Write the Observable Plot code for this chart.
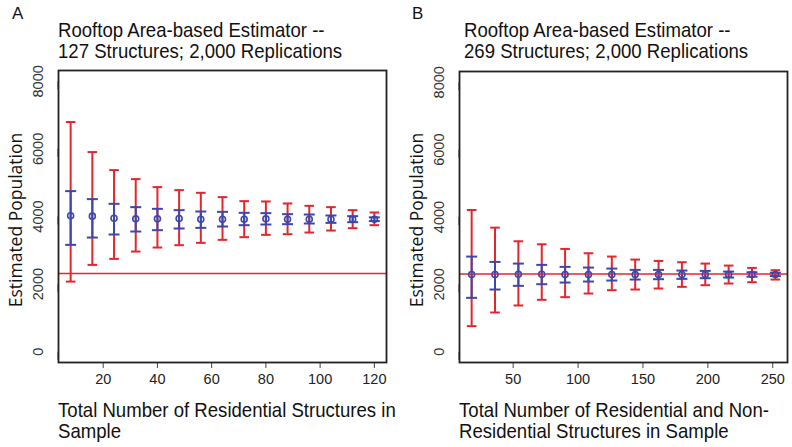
<!DOCTYPE html>
<html>
<head>
<meta charset="utf-8">
<script src="https://cdn.jsdelivr.net/npm/d3@7"></script>
<script src="https://cdn.jsdelivr.net/npm/@observablehq/plot@0.6"></script>
<style>
  html, body { margin: 0; padding: 0; background: #fff; }
  #wrap { position: relative; width: 792px; height: 447px; overflow: hidden; font-family: "Liberation Sans", Arial, sans-serif; color: #111; }
  .panel { position: absolute; top: 0; z-index: 1; }
  .txt { position: absolute; z-index: 2; white-space: nowrap; font-size: 21px; line-height: 20px; transform-origin: 0 0; transform: scaleX(0.885); }
  .lab { position: absolute; z-index: 2; font-size: 17px; line-height: 17px; }
  .ylab { position: absolute; z-index: 2; white-space: nowrap; font-family: "Open Sans", sans-serif; font-size: 17.5px; line-height: 20px; transform: translate(-50%, -50%) rotate(-90deg); }
</style>
</head>
<body>
<div id="wrap">
  <div id="pa" class="panel" style="left:0px;"></div>
  <div id="pb" class="panel" style="left:396px;"></div>
  <div class="lab" style="left:12px; top:5px;">A</div>
  <div class="lab" style="left:412px; top:5px;">B</div>
  <div class="txt" style="left:58px; top:20px;">Rooftop Area-based Estimator --</div>
  <div class="txt" style="left:58px; top:41px;">127 Structures; 2,000 Replications</div>
  <div class="txt" style="left:464px; top:20px;">Rooftop Area-based Estimator --</div>
  <div class="txt" style="left:464px; top:41px;">269 Structures; 2,000 Replications</div>
  <div class="txt" style="left:58px; top:400px;">Total Number of Residential Structures in</div>
  <div class="txt" style="left:58px; top:421px;">Sample</div>
  <div class="txt" style="left:459px; top:400px;">Total Number of Residential and Non-</div>
  <div class="txt" style="left:459px; top:421px;">Residential Structures in Sample</div>
  <div class="ylab" style="left:15px; top:220px;">Estimated Population</div>
  <div class="ylab" style="left:416px; top:220px;">Estimated Population</div>
</div>
<script>
// ---- Panel A data ----
const sampleA = [8, 16, 24, 32, 40, 48, 56, 64, 72, 80, 88, 96, 104, 112, 120];
const meanA   = [4020, 4010, 3950, 3930, 3930, 3940, 3920, 3920, 3920, 3930, 3920, 3920, 3920, 3920, 3920];
const redHiA  = [6795, 5906, 5373, 5106, 4869, 4780, 4701, 4573, 4454, 4445, 4385, 4316, 4277, 4188, 4119];
const redLoA  = [2074, 2568, 2746, 2963, 3082, 3151, 3220, 3309, 3388, 3457, 3477, 3526, 3585, 3655, 3743];
const blueHiA = [4751, 4514, 4375, 4277, 4227, 4188, 4148, 4138, 4109, 4099, 4069, 4059, 4030, 4010, 3975];
const blueLoA = [3161, 3378, 3467, 3556, 3595, 3645, 3664, 3704, 3743, 3763, 3773, 3793, 3812, 3832, 3865];
const xTicksA = [20, 40, 60, 80, 100, 120];

// ---- Panel B data ----
const sampleB = [18, 36, 54, 72, 90, 108, 126, 144, 162, 180, 198, 216, 234, 252];
const meanB   = [2291, 2291, 2300, 2300, 2295, 2295, 2295, 2295, 2295, 2295, 2295, 2295, 2295, 2295];
const redHiB  = [4208, 3684, 3279, 3190, 3052, 2924, 2825, 2736, 2696, 2657, 2617, 2558, 2489, 2420];
const redLoB  = [760, 1165, 1373, 1541, 1620, 1728, 1827, 1847, 1877, 1926, 1975, 2025, 2064, 2143];
const blueHiB = [2825, 2667, 2617, 2578, 2519, 2499, 2469, 2430, 2430, 2410, 2400, 2380, 2360, 2345];
const blueLoB = [1600, 1847, 1956, 2005, 2054, 2084, 2114, 2143, 2153, 2163, 2183, 2202, 2228, 2245];
const xTicksB = [50, 100, 150, 200, 250];

const yTicks = [0, 2000, 4000, 6000, 8000];
const truePopulation = 2310;

const RED = "#e3262e";
const BLUE = "#3d47ab";

const capSymbol = {
  draw(ctx, size) {
    const w = Math.sqrt(size / Math.PI);
    ctx.moveTo(-w, 0);
    ctx.lineTo(w, 0);
  }
};

function table(xs, mean, rhi, rlo, bhi, blo) {
  return xs.map((x, i) => ({x, mean: mean[i], rhi: rhi[i], rlo: rlo[i], bhi: bhi[i], blo: blo[i]}));
}

function panel(data, xTicks, xDomain, margins) {
  return Plot.plot({
    width: 396,
    height: 447,
    marginLeft: margins.left,
    marginRight: margins.right,
    marginTop: margins.top,
    marginBottom: margins.bottom,
    style: {fontFamily: "Liberation Sans, Arial, sans-serif", background: "transparent", overflow: "visible"},
    x: {domain: xDomain, ticks: xTicks, label: null},
    y: {domain: [-320, 8320], ticks: yTicks, label: null},
    marks: [
      Plot.ruleX(data, {x: "x", y1: "rlo", y2: "rhi", stroke: RED, strokeWidth: 2}),
      Plot.dot(data, {x: "x", y: "rhi", symbol: capSymbol, r: 4.8, stroke: RED, strokeWidth: 2, fill: "none"}),
      Plot.dot(data, {x: "x", y: "rlo", symbol: capSymbol, r: 4.8, stroke: RED, strokeWidth: 2, fill: "none"}),
      Plot.ruleX(data, {x: "x", y1: "blo", y2: "bhi", stroke: BLUE, strokeWidth: 2}),
      Plot.dot(data, {x: "x", y: "bhi", symbol: capSymbol, r: 5.5, stroke: BLUE, strokeWidth: 2, fill: "none"}),
      Plot.dot(data, {x: "x", y: "blo", symbol: capSymbol, r: 5.5, stroke: BLUE, strokeWidth: 2, fill: "none"}),
      Plot.ruleY([truePopulation], {stroke: RED, strokeWidth: 1.5}),
      Plot.dot(data, {x: "x", y: "mean", r: 3, stroke: BLUE, strokeWidth: 1.6, fill: "none"}),
      Plot.axisX({ticks: xTicks, tickSize: 6, tickPadding: 5, fontSize: 14.5, stroke: "#444", fill: "#222", tickFormat: d => String(d)}),
      Plot.axisY({ticks: yTicks, tickSize: 8, tickPadding: 12, fontSize: 14.5, stroke: "#444", fill: "#333",
                  rotate: -90, textAnchor: "middle", lineAnchor: "middle", tickFormat: d => String(d)}),
      Plot.frame({stroke: "#222", strokeWidth: 1.8})
    ]
  });
}

const dataA = table(sampleA, meanA, redHiA, redLoA, blueHiA, blueLoA);
const dataB = table(sampleB, meanB, redHiB, redLoB, blueHiB, blueLoB);

document.getElementById("pa").appendChild(
  panel(dataA, xTicksA, [3.52, 124.48], {left: 58, right: 10, top: 70, bottom: 85})
);
document.getElementById("pb").appendChild(
  panel(dataB, xTicksB, [8.64, 261.36], {left: 63, right: 5, top: 71, bottom: 85})
);
</script>
</body>
</html>
